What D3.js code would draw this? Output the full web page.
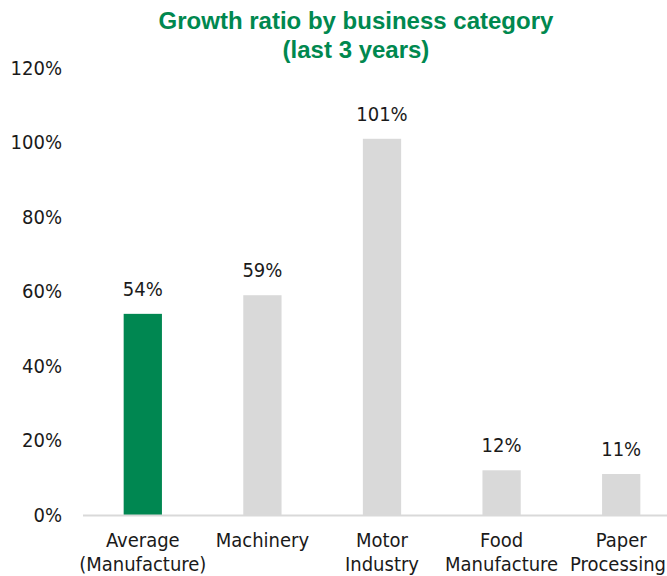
<!DOCTYPE html>
<html>
<head>
<meta charset="utf-8">
<script src="https://cdn.jsdelivr.net/npm/d3@7"></script>
<style>
  html, body { margin: 0; padding: 0; background: #fff; }
  svg { display: block; }
</style>
</head>
<body>
<svg id="chart" width="667" height="576"></svg>
<script>
const categories = [["Average", "(Manufacture)"], ["Machinery"], ["Motor", "Industry"], ["Food", "Manufacture"], ["Paper", "Processing"]];
const values = [54, 59, 101, 12, 11];
const highlight = [true, false, false, false, false];
const yTicks = [0, 20, 40, 60, 80, 100, 120];
const titleLines = ["Growth ratio by business category", "(last 3 years)"];

const W = 667, H = 576;
const font = "'Liberation Sans Narrow', 'Arial Narrow', 'DejaVu Sans Condensed', sans-serif";
const svg = d3.select("#chart");

const x = d3.scaleBand()
  .domain(d3.range(categories.length))
  .range([83, 681])
  .paddingInner(0.68)
  .paddingOuter(0.34);

const y = d3.scaleLinear().domain([0, 120]).range([515, 68]);

// title
const title = svg.append("text")
  .attr("x", 356)
  .attr("text-anchor", "middle")
  .attr("fill", "#00884F")
  .attr("font-family", "'Liberation Sans', Arial, sans-serif")
  .attr("font-weight", "bold")
  .attr("font-size", 24);
titleLines.forEach((t, i) => {
  title.append("tspan").attr("x", 356).attr("y", 29 + i * 29).text(t);
});

// y axis labels
const yAxis = d3.axisLeft(y).tickValues(yTicks).tickFormat(d => d + "%").tickSize(0).tickPadding(0);
const gy = svg.append("g").attr("transform", "translate(62,0)").call(yAxis);
gy.select(".domain").remove();
gy.selectAll("text")
  .attr("font-family", font)
  .attr("font-size", 20)
  .attr("fill", "#1a1a1a");

// bars
svg.append("g").selectAll("rect")
  .data(values)
  .join("rect")
  .attr("x", (d, i) => x(i))
  .attr("width", x.bandwidth())
  .attr("y", d => y(d))
  .attr("height", d => y(0) - y(d))
  .attr("fill", (d, i) => highlight[i] ? "#008751" : "#D9D9D9");

// baseline
svg.append("line")
  .attr("x1", 83).attr("x2", W)
  .attr("y1", y(0) + 0.5).attr("y2", y(0) + 0.5)
  .attr("stroke", "#D9D9D9").attr("stroke-width", 2);

// value labels
svg.append("g").selectAll("text")
  .data(values)
  .join("text")
  .attr("x", (d, i) => x(i) + x.bandwidth() / 2)
  .attr("y", d => y(d) - 18)
  .attr("text-anchor", "middle")
  .attr("font-family", font)
  .attr("font-size", 20)
  .attr("fill", "#1a1a1a")
  .text(d => d + "%");

// category labels
const xAxis = svg.append("g");
categories.forEach((lines, i) => {
  lines.forEach((l, j) => {
    const cx = x(i) + x.bandwidth() / 2;
    const t = xAxis.append("text")
      .attr("text-anchor", "middle")
      .attr("font-family", font)
      .attr("font-size", 20)
      .attr("fill", "#1a1a1a")
      .attr("x", cx)
      .attr("y", 547 + j * 24)
      .text(l);
    const len = t.node().getComputedTextLength();
    if (cx + len / 2 > W - 1) t.attr("x", W - 1 - len / 2);
  });
});
</script>
</body>
</html>
